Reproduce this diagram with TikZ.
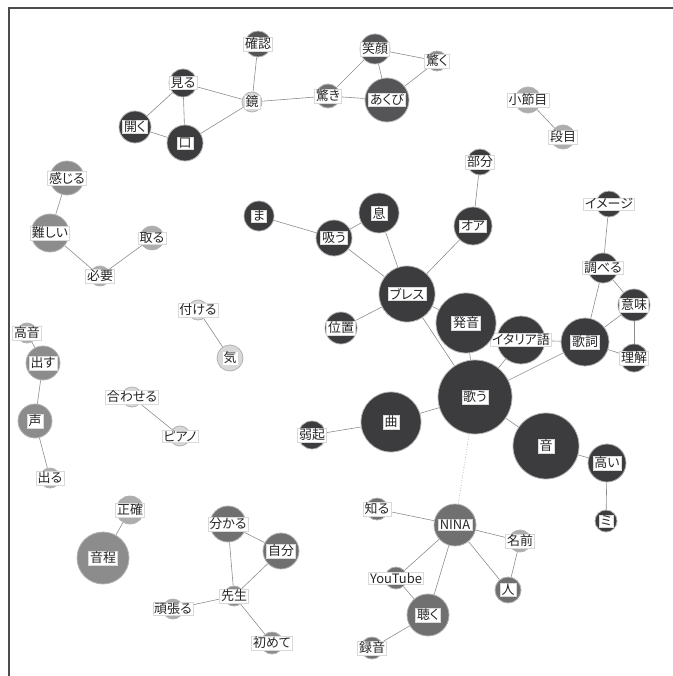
\documentclass[tikz,border=0pt]{standalone}
\usepackage{fontspec}
\newfontfamily\jpfont[RawFeature=+palt]{Noto Sans CJK JP}
\usetikzlibrary{backgrounds}

\definecolor{netA}{HTML}{3C3C3E}
\definecolor{netB}{HTML}{555557}
\definecolor{netC}{HTML}{707070}
\definecolor{netD}{HTML}{8C8C8C}
\definecolor{netE}{HTML}{ADADAD}
\definecolor{netF}{HTML}{D8D8D8}

\begin{document}
\begin{tikzpicture}[
            x=1bp, y=-1bp,
            word/.style={circle, draw=black!30, line width=0.8pt, inner sep=0pt, minimum size=#1*2bp},
            tag/.style={fill=white, draw=black!15, line width=0.3pt, inner xsep=1.5bp, inner ysep=0.8bp,
                text=black!85, font=\jpfont\fontsize{13}{14}\selectfont},
            link/.style={draw=black!45, line width=0.6pt},
        ]
            \useasboundingbox (0,0) rectangle (673,676);
            % frame
            \draw[black!70, line width=1.2pt] (9,676) -- (9,8) -- (673,8);

            % Draw the words
            \foreach \name/\x/\y/\r/\c/\t in {
                kakunin/258/44/13/netB/確認, miru/183/83/14/netA/見る, hiraku/135/127/16/netA/開く,
                kuchi/185/143/18/netA/口, kagami/252/102/10/netF/鏡, odoroki/328/96/12/netC/驚き,
                egao/375/49/15/netB/笑顔, odoroku/437/61/10/netD/驚く, akubi/387/100/22/netB/あくび,
                shousetsu/528/100/13/netE/小節目, danme/563/137/12/netE/段目,
                bubun/480/162/13/netA/部分, imeji/609/204/13/netA/イメージ, shiraberu/603/268/15/netA/調べる,
                imi/634/305/16/netA/意味, rikai/634/358/14/netA/理解, kashi/585/342/24/netA/歌詞,
                italia/521/340/24/netA/イタリア語, hatsuon/466/323/30/netA/発音, utau/475/397/37/netA/歌う,
                oto/546/446/33/netA/音, takai/607/463/19/netA/高い, mi/606/521/11/netA/ミ,
                buresu/407/294/28/netA/ブレス, oa/473/226/19/netA/オア, iki/379/213/20/netA/息,
                suu/334/238/18/netA/吸う, ma/259/216/15/netA/ま, ichi/341/328/16/netA/位置,
                kyoku/391/422/30/netA/曲, jakki/312/435/14/netA/弱起,
                nina/455/525/21/netC/NINA, shiru/377/509/11/netC/知る, namae/520/541/11/netE/名前,
                hito/508/590/13/netC/人, youtube/396/578/11/netC/YouTube, kiku/428/615/21/netC/聴く,
                rokuon/372/648/11/netC/録音,
                kanjiru/67/178/17/netD/感じる, muzukashii/50/233/19/netD/難しい,
                hitsuyou/100/276/10/netE/必要, toru/152/238/12/netE/取る,
                tsukeru/198/310/10/netF/付ける, ki/230/358/13/netF/気,
                kouon/27/333/10/netE/高音, dasu/43/363/17/netD/出す, koe/35/421/17/netD/声,
                deru/50/478/10/netE/出る, awaseru/132/397/10/netF/合わせる, piano/180/436/10/netF/ピアノ,
                seikaku/130/510/14/netE/正確, ontei/103/558/26/netD/音程,
                wakaru/228/524/18/netC/分かる, jibun/281/551/18/netC/自分, sensei/234/596/10/netD/先生,
                ganbaru/173/609/10/netE/頑張る, hajimete/272/643/11/netD/初めて}
                \node[word=\r, fill=\c, label={[tag]center:\t}] (\name) at (\x,\y) {};

            % Connect co-occurring words
            \begin{scope}[on background layer]
                \foreach \a/\b in {kakunin/kagami, miru/kagami, miru/hiraku, miru/kuchi, hiraku/kuchi,
                    kuchi/kagami, kagami/odoroki, odoroki/egao, odoroki/akubi, egao/akubi, egao/odoroku,
                    odoroku/akubi, shousetsu/danme, bubun/oa, imeji/shiraberu, shiraberu/imi,
                    shiraberu/kashi, imi/rikai, imi/kashi, kashi/rikai, kashi/italia, kashi/utau,
                    italia/utau, buresu/oa, buresu/iki, buresu/suu, buresu/ichi, buresu/hatsuon,
                    buresu/utau, iki/suu, suu/ma, hatsuon/utau, utau/kyoku, kyoku/jakki, utau/oto,
                    oto/takai, takai/mi, nina/shiru, nina/namae, nina/hito, nina/youtube, nina/kiku,
                    namae/hito, youtube/kiku, kiku/rokuon, kanjiru/muzukashii, muzukashii/hitsuyou,
                    hitsuyou/toru, tsukeru/ki, kouon/dasu, dasu/koe, koe/deru, awaseru/piano,
                    seikaku/ontei, wakaru/jibun, wakaru/sensei, jibun/sensei, sensei/ganbaru,
                    sensei/hajimete}
                    \draw[link] (\a) -- (\b);
                \draw[link, dotted] (utau) -- (nina);
            \end{scope}
        \end{tikzpicture}
\end{document}
